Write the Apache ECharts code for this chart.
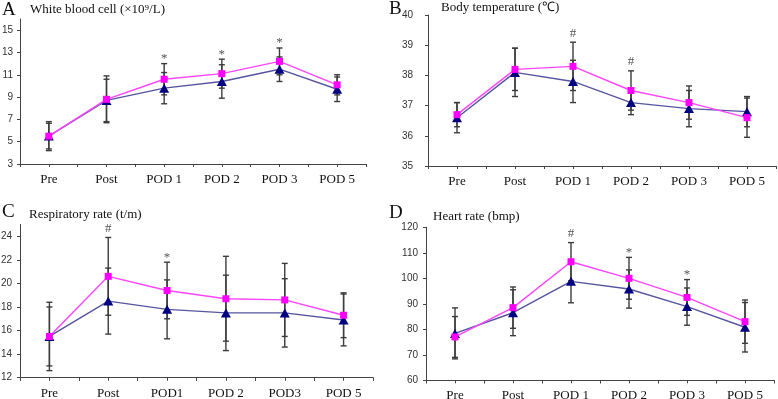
<!DOCTYPE html>
<html><head><meta charset="utf-8">
<script src="https://cdn.jsdelivr.net/npm/echarts@6/dist/echarts.min.js"></script>
<style>html,body{margin:0;padding:0;background:#fff}#c{width:778px;height:399px}</style>
</head><body><div id="c"></div>
<script>
// categories
const catsABD = ['Pre', 'Post', 'POD 1', 'POD 2', 'POD 3', 'POD 5'];
const catsC = ['Pre', 'Post', 'POD1', 'POD 2', 'POD3', 'POD 5'];
// A: white blood cell
const wbcPink = [5.5, 8.8, 10.6, 11.1, 12.2, 10.1];
const wbcPinkSD = [1.3, 2.1, 1.4, 1.3, 1.2, 0.9];
const wbcBlue = [5.5, 8.7, 9.8, 10.4, 11.5, 9.7];
const wbcBlueSD = [1.15, 1.9, 1.4, 1.5, 1.1, 1.1];
const wbcMarks = ['', '', '*', '*', '*', ''];
// B: body temperature
const tempPink = [36.7, 38.2, 38.3, 37.5, 37.1, 36.6];
const tempPinkSD = [0.4, 0.7, 0.8, 0.65, 0.55, 0.65];
const tempBlue = [36.6, 38.1, 37.8, 37.1, 36.9, 36.8];
const tempBlueSD = [0.5, 0.8, 0.7, 0.4, 0.6, 0.5];
const tempMarks = ['', '', '#', '#', '', ''];
// C: respiratory rate
const respPink = [15.5, 20.6, 19.4, 18.7, 18.6, 17.3];
const respPinkSD = [2.9, 3.3, 2.4, 3.6, 3.1, 1.9];
const respBlue = [15.5, 18.5, 17.8, 17.5, 17.5, 16.9];
const respBlueSD = [2.5, 2.8, 2.5, 3.2, 2.9, 2.2];
const respMarks = ['', '#', '*', '', '', ''];
// D: heart rate
const hrPink = [77.0, 88.5, 106.5, 100.0, 92.5, 83.0];
const hrPinkSD = [8.0, 8.1, 7.5, 8.2, 7.0, 8.5];
const hrBlue = [78.4, 86.5, 98.8, 95.8, 88.9, 80.8];
const hrBlueSD = [10.0, 9.0, 8.4, 7.5, 7.3, 9.7];
const hrMarks = ['', '', '#', '*', '*', ''];
// y tick labels
const yTicksA = [3, 5, 7, 9, 11, 13, 15];
const yTicksB = [35, 36, 37, 38, 39, 40];
const yTicksC = [12, 14, 16, 18, 20, 22, 24];
const yTicksD = [60, 70, 80, 90, 100, 110, 120];
// titles
const letters = ['A', 'B', 'C', 'D'];
const titles = ['White blood cell (\u00d710\u2079/L)', 'Body temperature (\u2103)', 'Respiratory rate (t/m)', 'Heart rate (bmp)'];

const panels = [
  {cats: catsABD, pink: wbcPink, pinkSD: wbcPinkSD, blue: wbcBlue, blueSD: wbcBlueSD, marks: wbcMarks, ticks: yTicksA, min: 3, max: 16,
   grid: {left: 20, top: 19, width: 346, height: 145}, labelMargin: 7,
   letterPos: [2, 10], titlePos: [30, 10]},
  {cats: catsABD, pink: tempPink, pinkSD: tempPinkSD, blue: tempBlue, blueSD: tempBlueSD, marks: tempMarks, ticks: yTicksB, min: 35, max: 40,
   grid: {left: 428, top: 15, width: 348, height: 151}, labelMargin: 15,
   letterPos: [389, 9], titlePos: [441, 8]},
  {cats: catsC, pink: respPink, pinkSD: respPinkSD, blue: respBlue, blueSD: respBlueSD, marks: respMarks, ticks: yTicksC, min: 12, max: 25,
   grid: {left: 20, top: 224.5, width: 353, height: 153.2}, labelMargin: 8,
   letterPos: [2, 212], titlePos: [29, 215]},
  {cats: catsABD, pink: hrPink, pinkSD: hrPinkSD, blue: hrBlue, blueSD: hrBlueSD, marks: hrMarks, ticks: yTicksD, min: 60, max: 120,
   grid: {left: 426, top: 227.3, width: 348, height: 153}, labelMargin: 8,
   letterPos: [389, 213], titlePos: [433, 217]}
];

const AXIS = '#444';
function errRender(params, api) {
  const x = api.value(0), m = api.value(1), s = api.value(2);
  const hi = api.coord([x, m + s]), lo = api.coord([x, m - s]);
  const w = 3;
  const style = {stroke: '#3c3c3c', lineWidth: 1.4};
  return {type: 'group', children: [
    {type: 'line', shape: {x1: hi[0], y1: hi[1], x2: lo[0], y2: lo[1]}, style: style},
    {type: 'line', shape: {x1: hi[0] - w, y1: hi[1], x2: hi[0] + w, y2: hi[1]}, style: style},
    {type: 'line', shape: {x1: lo[0] - w, y1: lo[1], x2: lo[0] + w, y2: lo[1]}, style: style}
  ]};
}
function makeMarkRender(marks) {
  return function (params, api) {
    const txt = marks[params.dataIndex];
    if (!txt) return null;
    const p = api.coord([api.value(0), api.value(1)]);
    const dy = txt === '*' ? -5 : -9;
    return {type: 'text', x: p[0], y: p[1] + dy,
      style: {text: txt, font: '13px "Liberation Serif"', fill: '#555', align: 'center', verticalAlign: 'middle', textAlign: 'center', textVerticalAlign: 'middle'}};
  };
}

const grids = [], xAxes = [], yAxes = [], series = [], graphics = [];
panels.forEach(function (p, i) {
  grids.push(Object.assign({outerBoundsMode: 'none', containLabel: false}, p.grid));
  xAxes.push({type: 'category', gridIndex: i, data: p.cats, position: 'bottom', boundaryGap: true,
    axisLine: {show: true, lineStyle: {color: AXIS, width: 1}},
    axisTick: {show: true, length: 3, lineStyle: {color: AXIS}},
    axisLabel: {color: '#111', fontFamily: 'Liberation Serif', fontSize: 13, margin: 9, interval: 0},
    splitLine: {show: false}});
  const half = [];
  for (let k = 0; k < p.cats.length * 2; k++) half.push('');
  xAxes.push({type: 'category', gridIndex: i, data: half, position: 'bottom', boundaryGap: true,
    axisLine: {show: false}, axisTick: {show: true, length: 3, interval: 0, lineStyle: {color: AXIS}},
    axisLabel: {show: false}, splitLine: {show: false}});
  yAxes.push({type: 'value', gridIndex: i, min: p.min, max: p.max,
    axisLine: {show: true, lineStyle: {color: AXIS, width: 1}},
    axisTick: {show: true, length: 3, customValues: p.ticks, lineStyle: {color: AXIS}},
    axisLabel: {customValues: p.ticks, color: '#333', fontFamily: 'Liberation Sans', fontSize: 10, margin: p.labelMargin},
    splitLine: {show: false}});
  const xi = i * 2;
  series.push({type: 'custom', xAxisIndex: xi, yAxisIndex: i, renderItem: errRender, z: 1, silent: true,
    data: p.pink.map(function (v, k) { return [k, v, p.pinkSD[k]]; })});
  series.push({type: 'custom', xAxisIndex: xi, yAxisIndex: i, renderItem: errRender, z: 1, silent: true,
    data: p.blue.map(function (v, k) { return [k, v, p.blueSD[k]]; })});
  series.push({type: 'line', xAxisIndex: xi, yAxisIndex: i, data: p.blue, z: 3,
    symbol: 'triangle', symbolSize: [10, 9], showAllSymbol: true,
    itemStyle: {color: '#000080'}, lineStyle: {color: '#5555a0', width: 1.4}, animation: false});
  series.push({type: 'line', xAxisIndex: xi, yAxisIndex: i, data: p.pink, z: 4,
    symbol: 'rect', symbolSize: 7, showAllSymbol: true,
    itemStyle: {color: '#ff00ff'}, lineStyle: {color: '#ff44ff', width: 1.4}, animation: false});
  series.push({type: 'custom', xAxisIndex: xi, yAxisIndex: i, renderItem: makeMarkRender(p.marks), z: 5, silent: true,
    data: p.pink.map(function (v, k) { return [k, v + p.pinkSD[k]]; })});
  graphics.push({type: 'text', x: p.letterPos[0], y: p.letterPos[1],
    style: {text: letters[i], font: '19px "Liberation Serif"', fill: '#111', align: 'left', verticalAlign: 'middle', textAlign: 'left', textVerticalAlign: 'middle'}});
  graphics.push({type: 'text', x: p.titlePos[0], y: p.titlePos[1],
    style: {text: titles[i], font: '13px "Liberation Serif"', fill: '#111', align: 'left', verticalAlign: 'middle', textAlign: 'left', textVerticalAlign: 'middle'}});
});

const chart = echarts.init(document.getElementById('c'), null, {renderer: 'canvas'});
chart.setOption({
  animation: false,
  backgroundColor: '#fff',
  grid: grids, xAxis: xAxes, yAxis: yAxes, series: series, graphic: graphics
});
</script>
</body></html>
